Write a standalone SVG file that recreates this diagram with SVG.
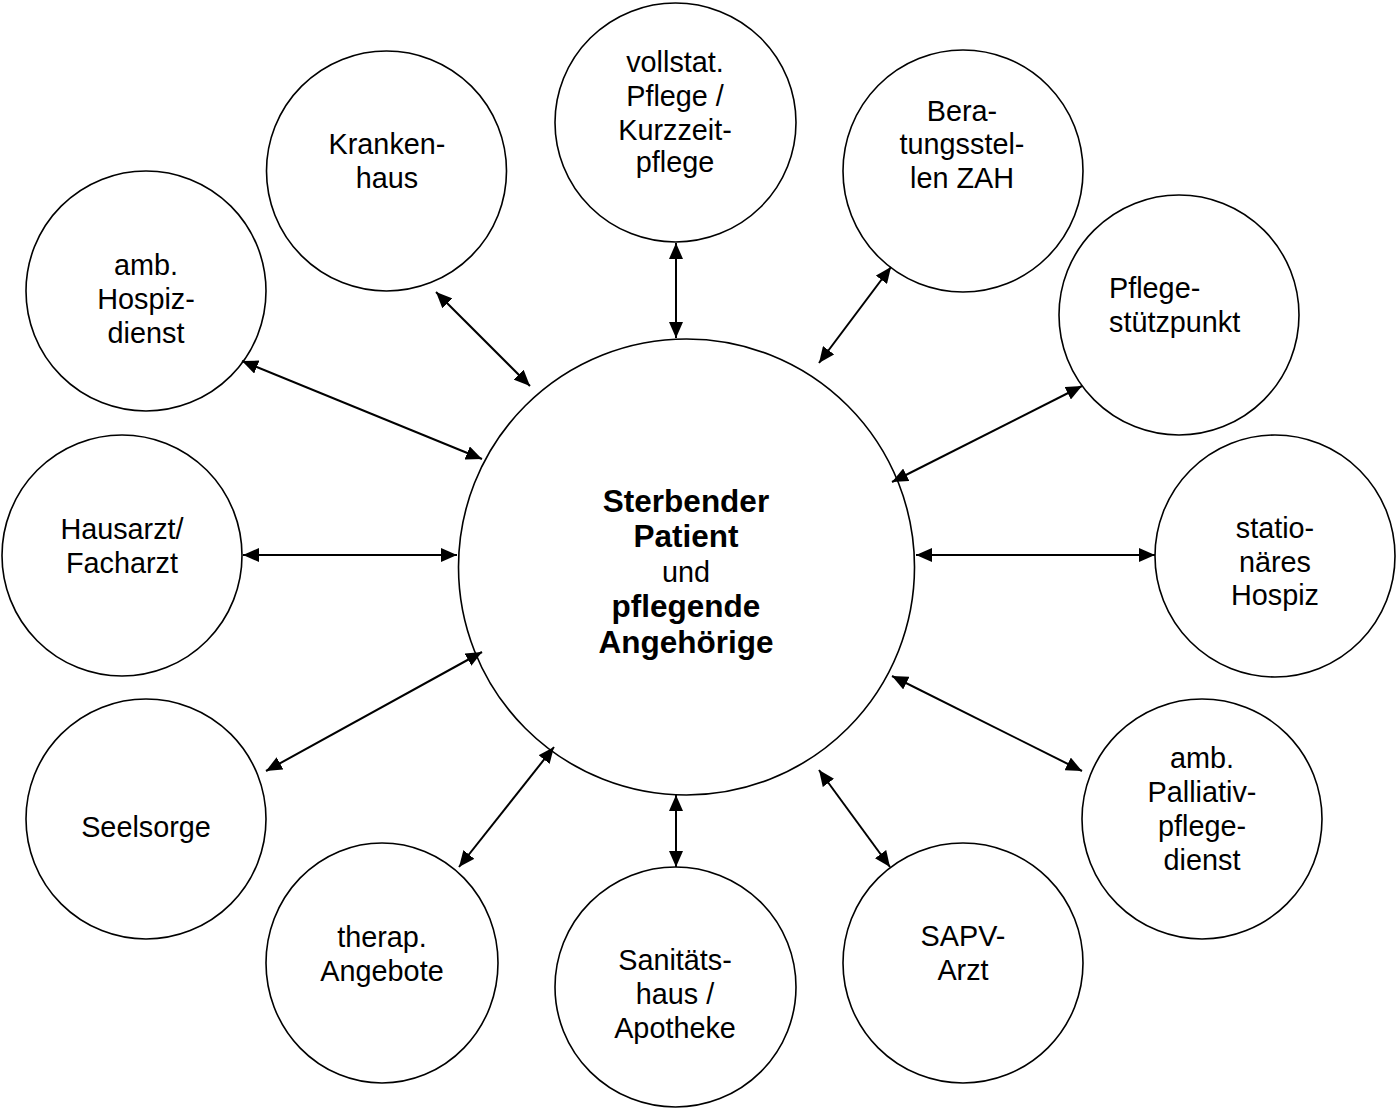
<svg xmlns="http://www.w3.org/2000/svg" width="1397" height="1109" viewBox="0 0 1397 1109">
<defs>
<marker id="ah" viewBox="0 0 16 14" markerUnits="userSpaceOnUse" markerWidth="16" markerHeight="14" refX="16" refY="7" orient="auto-start-reverse">
<path d="M0,0 L16,7 L0,14 z" fill="#000"/>
</marker>
<style>
.n{fill:#fff;stroke:#000;stroke-width:1.6}
.t{font-family:"Liberation Sans",Arial,sans-serif;font-size:28.8px;fill:#000;text-anchor:middle}
.b{font-weight:bold;font-size:31.5px}
.c line{stroke:#000;stroke-width:2;marker-start:url(#ah);marker-end:url(#ah)}
</style>
</defs>
<rect width="1397" height="1109" fill="#fff"/>
<g id="center">
<ellipse class="n" cx="686.5" cy="567" rx="228" ry="228"/>
<text class="t b" x="686" y="512">Sterbender</text>
<text class="t b" x="686" y="547">Patient</text>
<text class="t" x="686" y="582">und</text>
<text class="t b" x="686" y="617">pflegende</text>
<text class="t b" x="686" y="653">Angehörige</text>
</g>
<g id="krankenhaus">
<ellipse class="n" cx="386.5" cy="171" rx="120" ry="120"/>
<text class="t" x="387" y="154">Kranken-</text>
<text class="t" x="387" y="188">haus</text>
</g>
<g id="hospizdienst">
<ellipse class="n" cx="146" cy="291" rx="120" ry="120"/>
<text class="t" x="146" y="275">amb.</text>
<text class="t" x="146" y="309">Hospiz-</text>
<text class="t" x="146" y="343">dienst</text>
</g>
<g id="vollstat">
<ellipse class="n" cx="675.5" cy="122.5" rx="120.5" ry="119.5"/>
<text class="t" x="675" y="72">vollstat.</text>
<text class="t" x="675" y="106">Pflege /</text>
<text class="t" x="675" y="140">Kurzzeit-</text>
<text class="t" x="675" y="172">pflege</text>
</g>
<g id="beratung">
<ellipse class="n" cx="963" cy="171" rx="120" ry="121"/>
<text class="t" x="962" y="121">Bera-</text>
<text class="t" x="962" y="154">tungsstel-</text>
<text class="t" x="962" y="188">len ZAH</text>
</g>
<g id="pflegestuetzpunkt">
<ellipse class="n" cx="1179" cy="315" rx="120" ry="120"/>
<text class="t" x="1109" y="298" style="text-anchor:start">Pflege-</text>
<text class="t" x="1109" y="332" style="text-anchor:start">stützpunkt</text>
</g>
<g id="hausarzt">
<ellipse class="n" cx="122" cy="555.5" rx="120" ry="120.5"/>
<text class="t" x="122" y="539">Hausarzt/</text>
<text class="t" x="122" y="573">Facharzt</text>
</g>
<g id="stationaeres-hospiz">
<ellipse class="n" cx="1275" cy="556" rx="120" ry="121"/>
<text class="t" x="1275" y="538">statio-</text>
<text class="t" x="1275" y="572">näres</text>
<text class="t" x="1275" y="605">Hospiz</text>
</g>
<g id="palliativ">
<ellipse class="n" cx="1202" cy="819" rx="120" ry="120"/>
<text class="t" x="1202" y="768">amb.</text>
<text class="t" x="1202" y="802">Palliativ-</text>
<text class="t" x="1202" y="836">pflege-</text>
<text class="t" x="1202" y="870">dienst</text>
</g>
<g id="sapv">
<ellipse class="n" cx="963" cy="963" rx="120" ry="120"/>
<text class="t" x="963" y="946">SAPV-</text>
<text class="t" x="963" y="980">Arzt</text>
</g>
<g id="sanitaetshaus">
<ellipse class="n" cx="675.5" cy="987" rx="120.5" ry="120"/>
<text class="t" x="675" y="970">Sanitäts-</text>
<text class="t" x="675" y="1004">haus /</text>
<text class="t" x="675" y="1038">Apotheke</text>
</g>
<g id="therap">
<ellipse class="n" cx="382" cy="963" rx="116" ry="120"/>
<text class="t" x="382" y="947">therap.</text>
<text class="t" x="382" y="981">Angebote</text>
</g>
<g id="seelsorge">
<ellipse class="n" cx="146" cy="819" rx="120" ry="120"/>
<text class="t" x="146" y="837">Seelsorge</text>
</g>
<g id="connectors" class="c">
<line x1="436" y1="292" x2="530" y2="386"/>
<line x1="242" y1="361" x2="482" y2="459"/>
<line x1="676" y1="243" x2="676" y2="338"/>
<line x1="891" y1="267" x2="819" y2="363"/>
<line x1="1082" y1="386" x2="892" y2="482"/>
<line x1="243" y1="555" x2="457" y2="555"/>
<line x1="916" y1="555" x2="1155" y2="555"/>
<line x1="892" y1="676" x2="1082" y2="771"/>
<line x1="819" y1="770" x2="890" y2="867"/>
<line x1="676" y1="795" x2="676" y2="867"/>
<line x1="554" y1="747" x2="459" y2="867"/>
<line x1="482" y1="652" x2="266" y2="771"/>
</g>
</svg>
